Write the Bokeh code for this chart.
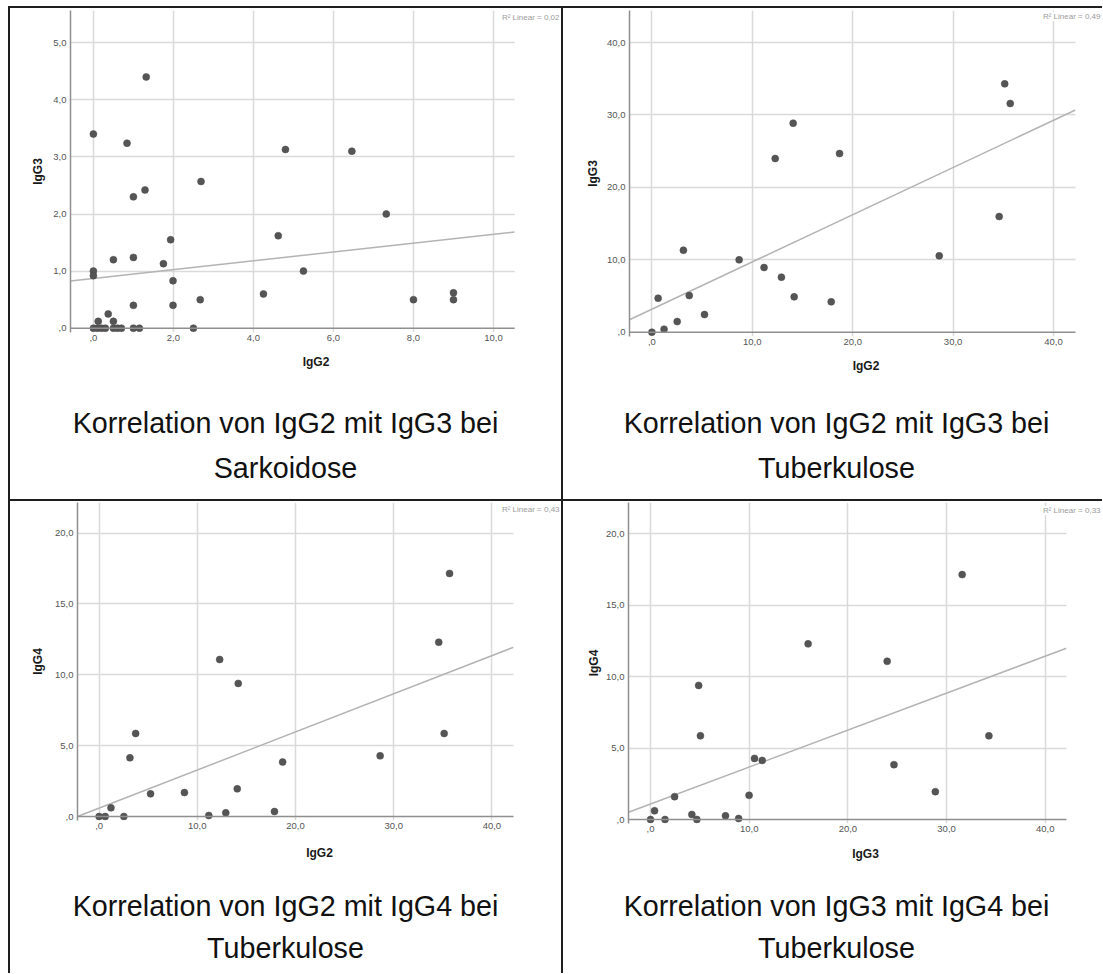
import numpy as np
from bokeh.plotting import figure
from bokeh.layouts import column, row
from bokeh.models import (Range1d, FixedTicker, Span, Label, BoxAnnotation, Div, Spacer)
from bokeh.embed import file_html
from bokeh.resources import INLINE

# ---------------- data ----------------
# Sarkoidose
sarc_igg2 = [0.0, 1.32, 0.84, 4.80, 6.46, 2.69, 1.29, 1.0, 7.32, 1.93, 4.62, 0.5, 1.0,
             1.75, 0.0, 0.0, 5.25, 1.99, 4.25, 9.0, 9.0, 8.0, 2.67, 1.0, 1.99, 0.37,
             0.12, 0.5, 0.0, 0.1, 0.2, 0.3, 0.5, 0.6, 0.7, 1.0, 1.15, 2.5]
sarc_igg3 = [3.40, 4.40, 3.24, 3.13, 3.10, 2.57, 2.42, 2.30, 2.00, 1.55, 1.62, 1.20, 1.24,
             1.13, 1.00, 0.92, 1.00, 0.83, 0.60, 0.62, 0.50, 0.50, 0.50, 0.40, 0.40, 0.25,
             0.12, 0.12, 0.0, 0.0, 0.0, 0.0, 0.0, 0.0, 0.0, 0.0, 0.0, 0.0]

# Tuberkulose
tb_igg2 = [35.14, 35.69, 14.07, 12.28, 18.69, 34.59, 3.14, 8.69, 28.62, 11.17, 12.90,
           0.62, 3.72, 14.17, 17.86, 5.24, 2.52, 1.21, 0.0]
tb_igg3 = [34.29, 31.58, 28.86, 23.98, 24.67, 15.97, 11.32, 9.99, 10.54, 8.93, 7.60,
           4.70, 5.06, 4.88, 4.19, 2.44, 1.47, 0.41, 0.0]
tb_igg4 = [5.86, 17.15, 1.95, 11.08, 3.84, 12.30, 4.14, 1.69, 4.28, 0.07, 0.26,
           0.0, 5.86, 9.39, 0.35, 1.60, 0.0, 0.61, 0.0]

# linear fit lines: (intercept, slope)
fit_sarc_23 = (0.87, 0.0775)
fit_tb_23 = (3.18, 0.652)
fit_tb_24 = (0.59, 0.269)
fit_tb_34 = (1.08, 0.259)
r2_sarc_23 = 0.02

# tick values and labels
ticks_0_10 = [0, 2, 4, 6, 8, 10]
labels_0_10 = [",0", "2,0", "4,0", "6,0", "8,0", "10,0"]
ticks_0_5 = [0, 1, 2, 3, 4, 5]
labels_0_5 = [",0", "1,0", "2,0", "3,0", "4,0", "5,0"]
ticks_0_40 = [0, 10, 20, 30, 40]
labels_0_40 = [",0", "10,0", "20,0", "30,0", "40,0"]
ticks_0_20 = [0, 5, 10, 15, 20]
labels_0_20 = [",0", "5,0", "10,0", "15,0", "20,0"]

captions = [
    ("Korrelation von IgG2 mit IgG3 bei", "Sarkoidose"),
    ("Korrelation von IgG2 mit IgG3 bei", "Tuberkulose"),
    ("Korrelation von IgG2 mit IgG4 bei", "Tuberkulose"),
    ("Korrelation von IgG3 mit IgG4 bei", "Tuberkulose"),
]


def r2_of(x, y):
    r = np.corrcoef(np.asarray(x, float), np.asarray(y, float))[0, 1]
    return r * r


def fmt_r2(v):
    return "R\u00b2 Linear = " + ("%.2f" % v).replace(".", ",")


FONT = "Liberation Sans"
AXIS_COL = "#8f8f8f"
GRID_COL = "#dadada"
DOT_COL = "#555555"
FIT_COL = "#b3b3b3"
BORDER_COL = "#1e1e1e"


def panel(W, H, fl, ft, fb, xr, data_right, yr, xt, xtl, yt, ytl, xs, ys, fit,
          xlab, ylab, ylab_standoff, xlab_standoff, r2txt, r2x, r2y):
    p = figure(width=W, height=H, x_range=Range1d(*xr), y_range=Range1d(*yr),
               output_backend="svg", toolbar_location=None,
               min_border_left=fl, min_border_right=0,
               min_border_top=ft, min_border_bottom=H - fb)
    p.background_fill_color = "white"
    p.border_fill_color = "white"
    p.outline_line_color = None

    # grid
    p.xgrid.ticker = FixedTicker(ticks=xt)
    p.ygrid.ticker = FixedTicker(ticks=yt[1:])
    for g in (p.xgrid, p.ygrid):
        g.grid_line_color = GRID_COL
        g.grid_line_width = 1.5

    # axes
    for ax, t, tl in ((p.xaxis, xt, xtl), (p.yaxis, yt, ytl)):
        ax.ticker = FixedTicker(ticks=t)
        ax.major_label_overrides = {v: s for v, s in zip(t, tl)}
        ax.major_tick_out = 0
        ax.major_tick_in = 0
        ax.minor_tick_out = 0
        ax.minor_tick_in = 0
        ax.major_label_text_font = FONT
        ax.major_label_text_font_size = "9.5px"
        ax.major_label_text_color = "#555555"
        ax.axis_label_text_font = FONT
        ax.axis_label_text_font_size = "12px"
        ax.axis_label_text_font_style = "bold"
        ax.axis_label_text_color = "#1a1a1a"
    p.xaxis.axis_label = xlab
    p.yaxis.axis_label = ylab
    p.xaxis.axis_line_color = None
    p.xaxis.major_label_standoff = 2
    p.xaxis.axis_label_standoff = xlab_standoff
    p.yaxis.axis_line_color = AXIS_COL
    p.yaxis.axis_line_width = 1.5
    p.yaxis.major_label_standoff = 4
    p.yaxis.axis_label_standoff = ylab_standoff
    p.add_layout(Span(location=0, dimension="width", line_color=AXIS_COL, line_width=1.5))

    # fit line across the data area
    b, m = fit
    fx = [xr[0], data_right]
    p.line(fx, [b + m * v for v in fx], line_color=FIT_COL, line_width=1.5)

    # points
    p.scatter(xs, ys, size=7, fill_color=DOT_COL, line_color="#4a4a4a", line_width=0.5)

    # blank margin right of the data area (grid stops there)
    p.add_layout(BoxAnnotation(left=data_right, right=xr[1], bottom=yr[0], top=yr[1],
                               fill_color="white", fill_alpha=1.0, line_color=None,
                               level="annotation"))
    # R2 text
    p.add_layout(Label(x=r2x, y=r2y, text=r2txt,
                       text_font=FONT, text_font_size="8px", text_color="#9a9a9a",
                       text_align="right", text_baseline="middle",
                       background_fill_color="white", background_fill_alpha=1.0))
    return p


def caption_div(lines, W, H, lh, shift):
    html = ('<div style="font-family:\'Liberation Sans\',Arial,sans-serif;font-size:28.7px;'
            'line-height:%dpx;text-align:center;color:#111111;position:relative;left:%dpx;'
            'width:%dpx;white-space:nowrap;">%s<br>%s</div>' % (lh, shift, W, lines[0], lines[1]))
    return Div(text=html, width=W, height=H, margin=0)


def bar(w, h):
    return Div(text="", width=w, height=h, margin=0,
               styles={"background-color": BORDER_COL})


WL, WR = 551, 539
HT, HB = 491, 472
FHT, FHB = 393, 384   # figure heights (rest of the cell is the caption)

p1 = panel(WL, FHT, 60, 2, 324, (-0.5725, 11.70), 10.53, (-0.0753, 5.564),
           ticks_0_10, labels_0_10, ticks_0_5, labels_0_5,
           sarc_igg2, sarc_igg3, fit_sarc_23, "IgG2", "IgG3", 5, 11,
           fmt_r2(r2_sarc_23), 11.65, 5.44)

p2 = panel(WR, FHT, 66, 2, 328, (-2.231, 44.88), 42.19, (-0.594, 44.42),
           ticks_0_40, labels_0_40, ticks_0_40, labels_0_40,
           tb_igg2, tb_igg3, fit_tb_23, "IgG2", "IgG3", 4, 11,
           fmt_r2(r2_of(tb_igg2, tb_igg3)), 44.68, 43.59)

p3 = panel(WL, FHB, 67, 1, 319, (-2.2, 47.09), 42.2, (-0.282, 22.16),
           ticks_0_40, labels_0_40, ticks_0_20, labels_0_20,
           tb_igg2, tb_igg4, fit_tb_24, "IgG2", "IgG4", 7, 14,
           fmt_r2(r2_of(tb_igg2, tb_igg4)), 46.89, 21.64)

p4 = panel(WR, FHB, 65, 1, 322, (-2.229, 45.8), 42.15, (-0.28, 22.2),
           ticks_0_40, labels_0_40, ticks_0_20, labels_0_20,
           tb_igg3, tb_igg4, fit_tb_34, "IgG3", "IgG4", 2, 12,
           fmt_r2(r2_of(tb_igg3, tb_igg4)), 45.6, 21.64)

c1 = column(p1, caption_div(captions[0], WL, HT - FHT, 45, 0))
c2 = column(p2, caption_div(captions[1], WR, HT - FHT, 45, 4))
c3 = column(p3, caption_div(captions[2], WL, HB - FHB, 42, 0))
c4 = column(p4, caption_div(captions[3], WR, HB - FHB, 42, 4))

TOTW = 2 + WL + 2 + WR
layout = column(
    Spacer(width=8, height=6),
    row(Spacer(width=8, height=2), bar(TOTW, 2)),
    row(Spacer(width=8, height=HT), bar(2, HT), c1, bar(2, HT), c2),
    row(Spacer(width=8, height=2), bar(TOTW, 2)),
    row(Spacer(width=8, height=HB), bar(2, HB), c3, bar(2, HB), c4),
)
open("out.html", "w").write(file_html(layout, INLINE))
